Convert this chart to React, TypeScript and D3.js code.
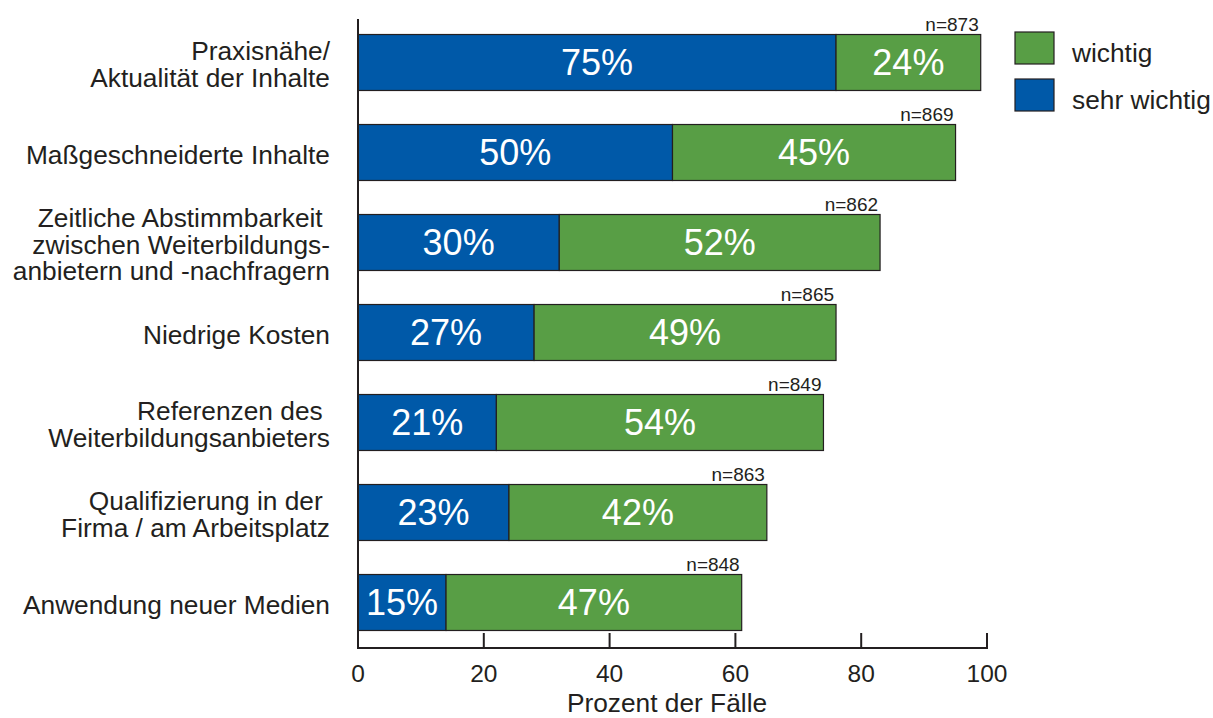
import React from "react";
import * as d3 from "d3";

const categories = [
  ["Praxisnähe/", "Aktualität der Inhalte"],
  ["Maßgeschneiderte Inhalte"],
  ["Zeitliche Abstimmbarkeit ", "zwischen Weiterbildungs-", "anbietern und -nachfragern"],
  ["Niedrige Kosten"],
  ["Referenzen des ", "Weiterbildungsanbieters"],
  ["Qualifizierung in der ", "Firma / am Arbeitsplatz"],
  ["Anwendung neuer Medien"],
];
// bar extents as drawn (percent)
const sehrWichtigBar = [76, 50, 32, 28, 22, 24, 14];
const wichtigBar = [23, 45, 51, 48, 52, 41, 47];
// printed labels
const sehrWichtigLabel = [75, 50, 30, 27, 21, 23, 15];
const wichtigLabel = [24, 45, 52, 49, 54, 42, 47];
const nValues = [873, 869, 862, 865, 849, 863, 848];
const xTicks = [0, 20, 40, 60, 80, 100];
const legendItems = [
  { key: "wichtig", label: "wichtig" },
  { key: "sehr", label: "sehr wichtig" },
];

const BLUE = "#0059a8";
const GREEN = "#589e45";
const DARK = "#231f20";
const FONT = "'Liberation Sans', Arial, Helvetica, sans-serif";

export default function App() {
  const W = 1213;
  const H = 718;
  const x = d3.scaleLinear().domain([0, 100]).range([358, 987]);
  const idx = categories.map((_, i) => String(i));
  const y = d3
    .scaleBand<string>()
    .domain(idx)
    .range([17.5, 647.5])
    .paddingInner(0.378)
    .paddingOuter(0.189);
  const bw = y.bandwidth();
  const axisY = 648;

  return (
    <svg
      width={W}
      height={H}
      style={{ position: "absolute", left: 0, top: 0, background: "#fff" }}
      fontFamily={FONT}
    >
      {/* bars */}
      {idx.map((k, i) => {
        const y0 = y(k)!;
        const cy = y0 + bw / 2;
        const b0 = x(0);
        const b1 = x(sehrWichtigBar[i]);
        const g1 = x(sehrWichtigBar[i] + wichtigBar[i]);
        return (
          <g key={k}>
            <rect x={b0} y={y0} width={b1 - b0} height={bw} fill={BLUE} stroke={DARK} strokeWidth={1.2} />
            <rect x={b1} y={y0} width={g1 - b1} height={bw} fill={GREEN} stroke={DARK} strokeWidth={1.2} />
            <text x={(b0 + b1) / 2} y={cy + 12.5} textAnchor="middle" fill="#fff" fontSize={36}>
              {sehrWichtigLabel[i]}%
            </text>
            <text x={(b1 + g1) / 2} y={cy + 12.5} textAnchor="middle" fill="#fff" fontSize={36}>
              {wichtigLabel[i]}%
            </text>
            <text x={g1 - 2} y={y0 - 3.5} textAnchor="end" fill={DARK} fontSize={19}>
              n={nValues[i]}
            </text>
            {categories[i].map((line, j) => (
              <text
                key={j}
                x={330}
                y={cy + (j - (categories[i].length - 1) / 2) * 26.7 + 11}
                textAnchor="end"
                fill={DARK}
                fontSize={26.3}
                style={{ whiteSpace: "pre" }}
              >
                {line}
              </text>
            ))}
          </g>
        );
      })}
      {/* axes */}
      <line x1={358} x2={358} y1={19} y2={axisY} stroke={DARK} strokeWidth={2} />
      <line x1={357} x2={988} y1={axisY} y2={axisY} stroke={DARK} strokeWidth={2} />
      {xTicks.map((t) => (
        <g key={t}>
          <line x1={x(t)} x2={x(t)} y1={axisY} y2={axisY - 15} stroke={DARK} strokeWidth={2} />
          <text x={x(t)} y={681.5} textAnchor="middle" fill={DARK} fontSize={24.5}>
            {t}
          </text>
        </g>
      ))}
      <text x={667} y={711.5} textAnchor="middle" fill={DARK} fontSize={26.3}>
        Prozent der Fälle
      </text>
      {/* legend */}
      {legendItems.map((it, i) => (
        <g key={it.key}>
          <rect
            x={1015}
            y={32 + i * 47}
            width={39}
            height={32}
            fill={it.key === "wichtig" ? GREEN : BLUE}
            stroke={DARK}
            strokeWidth={1.2}
          />
          <text x={1072} y={62 + i * 47} fill={DARK} fontSize={26.3}>
            {it.label}
          </text>
        </g>
      ))}
    </svg>
  );
}
